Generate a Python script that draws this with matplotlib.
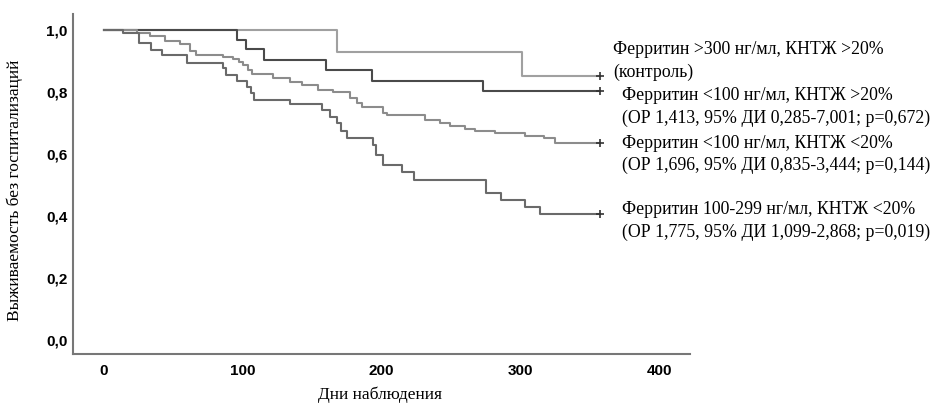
import matplotlib.pyplot as plt

# Kaplan-Meier steps: day of event, survival after event
t_ctrl = [0, 168, 301, 357]
s_ctrl = [1.0, 0.927, 0.85, 0.85]

t_low_hi = [0, 96, 102, 115, 160, 193, 273, 357]
s_low_hi = [1.0, 0.968, 0.937, 0.903, 0.869, 0.836, 0.804, 0.804]

t_low_lo = [0, 24, 33, 44, 55, 62, 66, 86, 93, 97, 100, 104, 107, 122, 134, 143,
            154, 165, 177, 182, 186, 201, 204, 231, 242, 249, 260, 267, 282, 303,
            317, 325, 357]
s_low_lo = [1.0, 0.99, 0.98, 0.965, 0.955, 0.93, 0.919, 0.912, 0.905, 0.895, 0.887,
            0.869, 0.858, 0.844, 0.833, 0.823, 0.806, 0.798, 0.78, 0.765, 0.752,
            0.731, 0.724, 0.71, 0.699, 0.69, 0.68, 0.672, 0.667, 0.658, 0.651,
            0.635, 0.635]

t_mid_lo = [0, 14, 25, 34, 42, 60, 86, 88, 96, 103, 106, 108, 134, 157, 163, 168,
            171, 175, 194, 196, 201, 215, 223, 275, 286, 303, 314, 357]
s_mid_lo = [1.0, 0.989, 0.957, 0.935, 0.919, 0.892, 0.876, 0.855, 0.835, 0.815,
            0.797, 0.775, 0.762, 0.742, 0.72, 0.699, 0.672, 0.65, 0.629, 0.597,
            0.565, 0.543, 0.516, 0.473, 0.452, 0.43, 0.406, 0.406]

labels = [
    ("Ферритин >300 нг/мл, КНТЖ >20%", "(контроль)"),
    ("Ферритин <100 нг/мл, КНТЖ >20%", "(ОР 1,413, 95% ДИ 0,285-7,001; p=0,672)"),
    ("Ферритин <100 нг/мл, КНТЖ <20%", "(ОР 1,696, 95% ДИ 0,835-3,444; p=0,144)"),
    ("Ферритин 100-299 нг/мл, КНТЖ <20%", "(ОР 1,775, 95% ДИ 1,099-2,868; p=0,019)"),
]

fig = plt.figure(figsize=(9.39, 4.05), dpi=100)
ax = fig.add_axes([0.0777, 0.126, 0.657, 0.839])

curves = [
    (t_ctrl, s_ctrl, "#a0a0a0"),
    (t_low_hi, s_low_hi, "#4a4a4a"),
    (t_low_lo, s_low_lo, "#8c8c8c"),
    (t_mid_lo, s_mid_lo, "#6a6a6a"),
]
for t, s, c in curves:
    ax.step(t, s, where="post", color=c, lw=1.5)
    ax.plot(t[-1], s[-1], marker="+", color="#333333", ms=6, mew=1.2)

ax.set_xlim(-22.3, 422)
ax.set_ylim(-0.045, 1.05)
ax.set_xticks([0, 100, 200, 300, 400])
ax.set_yticks([0, 0.2, 0.4, 0.6, 0.8, 1.0])
ax.set_yticklabels(["0,0", "0,2", "0,4", "0,6", "0,8", "1,0"])
for lab in ax.get_xticklabels() + ax.get_yticklabels():
    lab.set_fontfamily("Liberation Sans")
    lab.set_fontweight("bold")
    lab.set_fontsize(11)
ax.tick_params(axis="x", length=0, pad=7)
ax.tick_params(axis="y", length=0, pad=4)
for side in ["top", "right"]:
    ax.spines[side].set_visible(False)
for side in ["left", "bottom"]:
    ax.spines[side].set_color("#777777")
    ax.spines[side].set_linewidth(1.5)

fig.text(380 / 939, 1 - 395 / 405, "Дни наблюдения", family="Liberation Serif",
         fontsize=12.5, ha="center", va="center")
fig.text(15 / 939, 1 - 190 / 405, "Выживаемость без госпитализаций", family="Liberation Serif",
         fontsize=12.5, ha="center", va="center", rotation=90)

# labels to the right of the curves
ypos = [(49, 72, 613), (95, 118, 622), (143, 165, 622), (210, 232, 622)]
for (l1, l2), (y1, y2, x) in zip(labels, ypos):
    fig.text(x / 939, 1 - y1 / 405, l1, family="Liberation Serif", fontsize=12.8, va="center")
    fig.text(x / 939, 1 - y2 / 405, l2, family="Liberation Serif", fontsize=12.8, va="center")

fig.savefig("out.png", dpi=100)
